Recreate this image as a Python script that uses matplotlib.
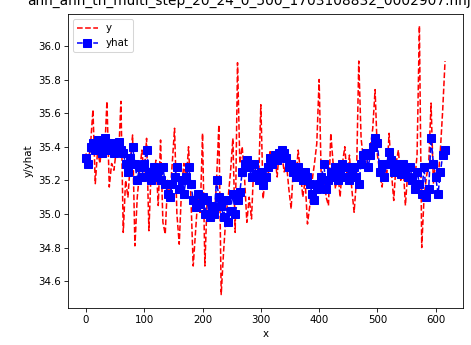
import numpy as np
import matplotlib
matplotlib.use("Agg")
import matplotlib.pyplot as plt


# Sampling step along x (every 4th point)
x_step = 4

# Observed values
y = [
    35.36, 35.30, 35.42, 35.62, 35.18, 35.38, 35.30, 35.44, 35.36, 35.67,
    35.16, 35.30, 35.26, 35.38, 35.34, 35.67, 34.89, 35.20, 35.10, 35.30,
    35.47, 34.81, 35.10, 35.25, 35.38, 35.22, 35.45, 34.90, 35.28, 35.20,
    35.32, 35.05, 35.44, 34.95, 34.88, 35.20, 35.10, 35.30, 35.51, 35.00,
    34.82, 35.15, 35.30, 35.20, 35.40, 35.10, 34.69, 34.90, 35.10, 35.00,
    35.48, 34.69, 35.10, 35.00, 35.05, 34.95, 35.20, 35.53, 34.52, 34.77,
    34.98, 35.10, 35.25, 35.45, 34.89, 35.90, 35.30, 35.40, 35.22, 34.95,
    35.10, 34.97, 35.30, 35.26, 35.18, 35.65, 35.09, 35.25, 35.20, 35.38,
    35.28, 35.35, 35.22, 35.40, 35.36, 35.25, 35.30, 35.15, 35.03, 35.30,
    35.20, 35.38, 35.25, 35.10, 35.20, 34.94, 35.05, 35.20, 35.30, 35.42,
    35.80, 35.15, 35.25, 35.10, 35.05, 35.48, 35.30, 35.15, 35.25, 35.10,
    35.30, 35.40, 35.22, 35.35, 35.15, 35.01, 35.20, 35.91, 35.45, 35.32,
    35.25, 35.35, 35.40, 35.51, 35.74, 35.35, 35.25, 35.16, 35.30, 35.22,
    35.48, 35.25, 35.08, 35.30, 35.38, 35.20, 35.30, 35.05, 35.25, 35.18,
    35.30, 35.20, 35.35, 36.12, 34.80, 35.10, 35.22, 35.30, 35.66, 35.18,
    35.32, 35.20, 35.38, 35.62, 35.91,
]

# Predicted values
yhat = [
    35.33, 35.30, 35.40, 35.42, 35.38, 35.44, 35.40, 35.36, 35.45, 35.42,
    35.38, 35.42, 35.36, 35.40, 35.43, 35.38, 35.36, 35.30, 35.25, 35.33,
    35.40, 35.30, 35.20, 35.28, 35.22, 35.30, 35.38, 35.25, 35.20, 35.28,
    35.22, 35.26, 35.20, 35.28, 35.18, 35.12, 35.10, 35.18, 35.22, 35.28,
    35.15, 35.20, 35.12, 35.22, 35.28, 35.18, 35.08, 35.04, 35.12, 35.06,
    35.10, 35.00, 35.08, 34.98, 35.05, 35.00, 35.20, 35.10, 35.05, 34.98,
    35.08, 34.95, 35.02, 35.12, 35.00, 35.08, 35.13, 35.25, 35.30, 35.32,
    35.28, 35.22, 35.30, 35.24, 35.20, 35.25, 35.17, 35.22, 35.28, 35.33,
    35.30, 35.35, 35.32, 35.36, 35.38, 35.36, 35.33, 35.28, 35.30, 35.25,
    35.22, 35.28, 35.24, 35.20, 35.25, 35.22, 35.18, 35.12, 35.08, 35.15,
    35.18, 35.22, 35.30, 35.15, 35.20, 35.25, 35.22, 35.28, 35.20, 35.25,
    35.30, 35.22, 35.28, 35.20, 35.25, 35.28, 35.22, 35.18, 35.30, 35.35,
    35.36, 35.28, 35.35, 35.40, 35.45, 35.42, 35.25, 35.30, 35.22, 35.30,
    35.37, 35.32, 35.25, 35.30, 35.28, 35.24, 35.30, 35.26, 35.22, 35.28,
    35.20, 35.15, 35.25, 35.18, 35.12, 35.28, 35.10, 35.15, 35.45, 35.30,
    35.22, 35.12, 35.25, 35.35, 35.38,
]

title = "ann_ann_th_multi_step_20_24_0_500_1703108832_0002907.nnj.mse"

x = np.arange(len(y)) * x_step


dpi = 73.6
fig = plt.figure(figsize=(471 / dpi, 345 / dpi), dpi=dpi)
ax = fig.add_axes([68 / 471, 37 / 345, 395 / 471, 294 / 345])

ax.plot(x, y, "r--", label="y")
ax.plot(x, yhat, "b--s", markersize=7, label="yhat")

ax.set_ylim(34.44, 36.19)

ax.set_xlabel("x")
ax.set_ylabel("y/yhat")
ax.set_title(title, fontsize=13.5, pad=9)
ax.legend(loc="upper left")

fig.savefig("out.png", dpi=dpi)
plt.close(fig)
